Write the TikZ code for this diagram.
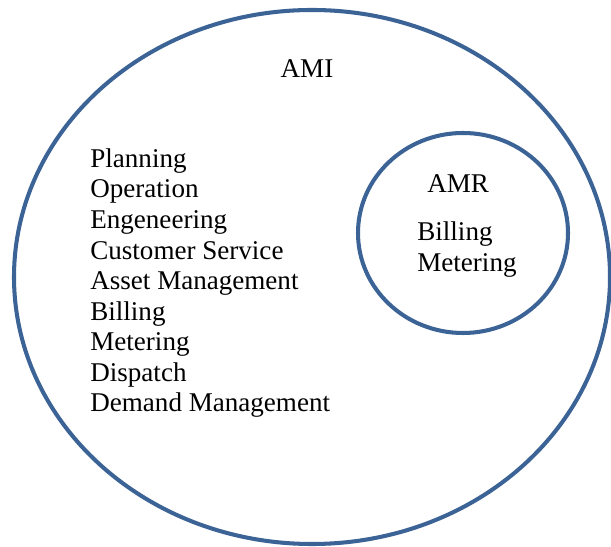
\documentclass[tikz,border=0pt]{standalone}
\usepackage{fontspec}
\setmainfont{Liberation Serif}
\definecolor{ringblue}{RGB}{59,99,150}
\begin{document}
\begin{tikzpicture}[
    ring/.style={draw=ringblue, line width=2.3pt},
    lbl/.style={inner sep=0pt, font=\fontsize{15.4}{17.4}\selectfont}
  ]
    \useasboundingbox (0,0) rectangle (12.22,10.92);
    % AMI ellipse
    \draw[ring] (6.24,5.38) ellipse (5.96cm and 5.34cm);
    % AMR circle
    \draw[ring] (9.26,6.26) ellipse (2.10cm and 2.00cm);
    % Labels (base = baseline of the last line)
    \node[lbl, anchor=base] (ami) at (6.14,9.36) {AMI};
    \node[lbl, anchor=base west] (amr) at (8.54,7.06) {AMR};
    \node[lbl, anchor=base west, align=left,
          font=\fontsize{15.4}{18.2}\selectfont] (amrlist) at (8.34,5.48)
      {Billing\\Metering};
    \node[lbl, anchor=base west, align=left] (amilist) at (1.80,2.68)
      {Planning\\Operation\\Engeneering\\Customer Service\\Asset Management\\
       Billing\\Metering\\Dispatch\\Demand Management};
  \end{tikzpicture}
\end{document}
